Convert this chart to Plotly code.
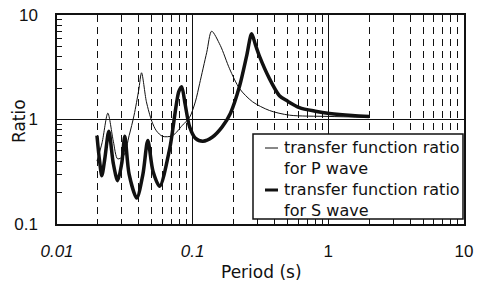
import plotly.graph_objects as go

# Period (s) and ratio values
period_p = [0.0197, 0.0215, 0.0237, 0.026, 0.028, 0.031, 0.034, 0.037, 0.040, 0.042,
            0.0456, 0.050, 0.054, 0.060, 0.071, 0.084, 0.095, 0.105, 0.1125, 0.127,
            0.138, 0.16, 0.187, 0.222, 0.276, 0.368, 0.517, 1.0, 2.0]
ratio_p = [0.40, 0.60, 1.15, 0.62, 0.42, 0.45, 0.70, 1.10, 1.90, 2.80,
           1.48, 0.96, 0.78, 0.69, 0.70, 0.88, 1.05, 1.50, 2.20, 4.40,
           7.00, 5.10, 3.06, 1.97, 1.48, 1.22, 1.10, 1.07, 1.05]

period_s = [0.0197, 0.0206, 0.0214, 0.0225, 0.0241, 0.026, 0.028, 0.030, 0.0316, 0.034,
            0.0387, 0.043, 0.0467, 0.051, 0.0571, 0.0678, 0.079, 0.083, 0.088, 0.095,
            0.105, 0.119, 0.14, 0.165, 0.19, 0.222, 0.25, 0.272, 0.29, 0.31,
            0.368, 0.436, 0.5, 0.612, 0.8, 1.02, 1.5, 2.0]
ratio_s = [0.70, 0.40, 0.29, 0.42, 0.77, 0.38, 0.26, 0.38, 0.69, 0.30,
           0.177, 0.30, 0.63, 0.32, 0.23, 0.53, 1.85, 2.06, 1.40, 0.85,
           0.66, 0.62, 0.68, 0.85, 1.15, 2.10, 4.06, 6.60, 5.20, 4.06,
           2.46, 1.69, 1.50, 1.30, 1.20, 1.14, 1.09, 1.07]

x_tickvals = [0.01, 0.1, 1, 10]
x_ticktext = ["<i>0.01</i>", "<i>0.1</i>", "1", "10"]
y_tickvals = [0.1, 1, 10]
y_ticktext = ["0.1", "1", "10"]

legend_p = "transfer function ratio<br>for P wave"
legend_s = "transfer function ratio<br>for S wave"

minor_x = [m * 10.0 ** d for d in (-2, -1, 0) for m in range(2, 10)]
minor_y = [m * 10.0 ** d for d in (-1, 0) for m in range(2, 10)]

FONT = "Liberation Sans, Arial, sans-serif"
LFONT = "DejaVu Sans, sans-serif"
INK = "#111111"

W, H = 487, 283
PL, PR, PT, PB = 57, 464, 15, 224   # plot area in pixels


def px(x):
    return (x - PL) / (PR - PL)


def py(y):
    return (PB - y) / (PB - PT)


fig = go.Figure()
fig.add_trace(go.Scatter(x=period_p, y=ratio_p, mode="lines", name="P wave",
                         showlegend=False,
                         line=dict(color=INK, width=1, shape="spline", smoothing=0.8)))
fig.add_trace(go.Scatter(x=period_s, y=ratio_s, mode="lines", name="S wave",
                         showlegend=False,
                         line=dict(color=INK, width=3.5, shape="spline", smoothing=0.8)))

shapes = [
    dict(type="rect", xref="paper", yref="paper", x0=px(253), x1=px(463), y0=py(219), y1=py(134),
         line=dict(color=INK, width=1.5), fillcolor="white", layer="above"),
    dict(type="line", xref="paper", yref="paper", x0=px(265), x1=px(278), y0=py(148), y1=py(148),
         line=dict(color=INK, width=1)),
    dict(type="line", xref="paper", yref="paper", x0=px(265), x1=px(278), y0=py(190), y1=py(190),
         line=dict(color=INK, width=3)),
]

ann = []
for text, yc in zip([legend_p, legend_s], [158, 200]):
    ann.append(dict(text=text, xref="paper", yref="paper", x=px(282), y=py(yc),
                    xanchor="left", yanchor="middle", align="left", showarrow=False,
                    font=dict(family=LFONT, size=16, color=INK)))
ann.append(dict(text="Period (s)", xref="paper", yref="paper", x=px(261), y=py(272),
                xanchor="center", yanchor="middle", showarrow=False,
                font=dict(family=LFONT, size=17, color=INK)))
ann.append(dict(text="Ratio", xref="paper", yref="paper", x=px(19), y=py(121),
                xanchor="center", yanchor="middle", showarrow=False, textangle=-90,
                font=dict(family=LFONT, size=17, color=INK)))

fig.update_layout(
    width=W, height=H,
    margin=dict(l=PL, r=W - PR, t=PT, b=H - PB, autoexpand=False),
    paper_bgcolor="white", plot_bgcolor="white",
    font=dict(family=FONT, color=INK, size=17),
    showlegend=False,
    shapes=shapes,
    annotations=ann,
)

fig.update_xaxes(
    type="log", range=[-2, 1], automargin=False,
    tickmode="array", tickvals=x_tickvals, ticktext=x_ticktext,
    ticks="outside", ticklen=11, tickcolor="rgba(0,0,0,0)",
    tickfont=dict(size=17), ticklabeloverflow="allow",
    showline=True, linecolor=INK, linewidth=1.5, mirror=True,
    showgrid=True, gridcolor=INK, gridwidth=1.2,
    minor=dict(tickmode="array", tickvals=minor_x, showgrid=True,
               gridcolor=INK, gridwidth=1, griddash="7px,5px", ticks=""),
)
fig.update_yaxes(
    type="log", range=[-1, 1], automargin=False,
    tickmode="array", tickvals=y_tickvals, ticktext=y_ticktext,
    ticks="outside", ticklen=14, tickcolor="rgba(0,0,0,0)",
    tickfont=dict(size=17), ticklabeloverflow="allow",
    showline=True, linecolor=INK, linewidth=1.5, mirror=True,
    showgrid=True, gridcolor=INK, gridwidth=1.2,
    minor=dict(tickmode="array", tickvals=minor_y, ticks="inside",
               ticklen=5, tickcolor=INK, tickwidth=1, showgrid=False),
)

fig.write_html("out.html", config={"displayModeBar": False},
               post_script="document.body.style.margin='0';")
